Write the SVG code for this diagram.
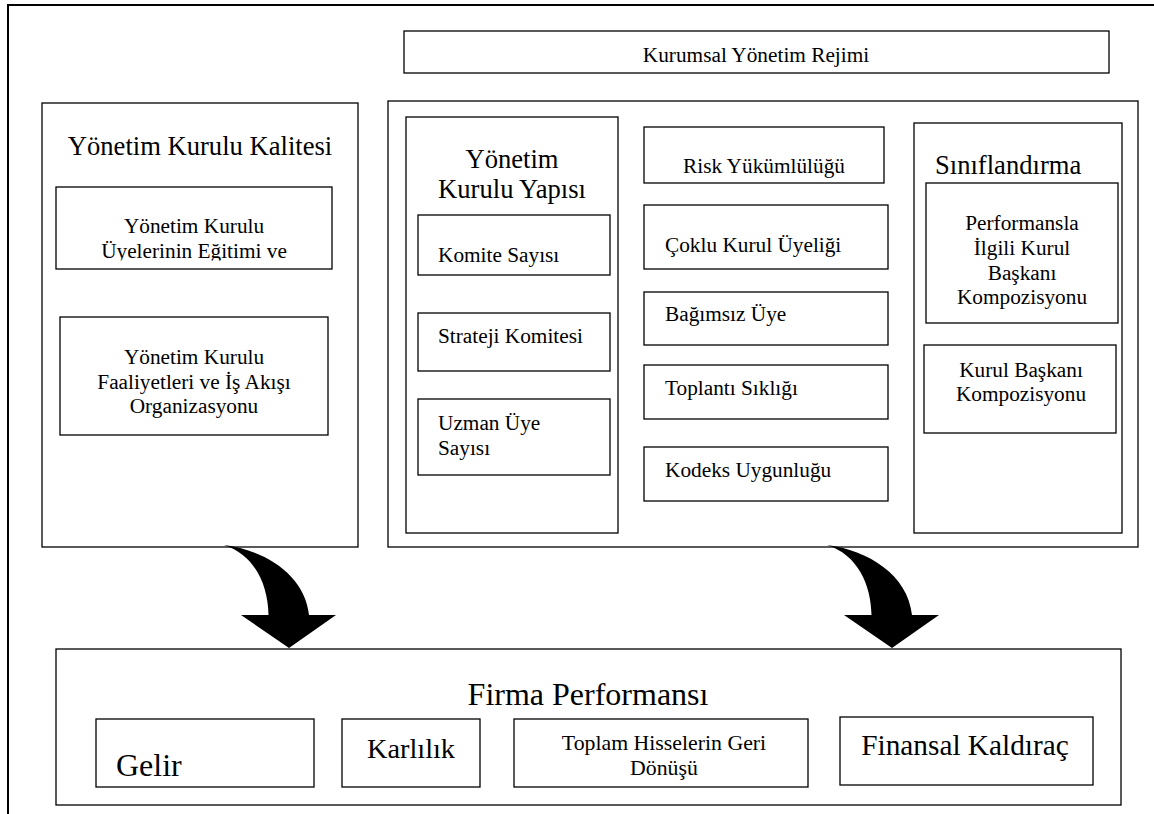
<svg xmlns="http://www.w3.org/2000/svg" width="1154" height="814" viewBox="0 0 1154 814">
<style>
rect{fill:#fff;stroke:#000;stroke-width:1.3}
text{font-family:'Liberation Serif','Times New Roman',Tinos,'DejaVu Serif',serif;fill:#000}
.s{font-size:21.3px}
.m{font-size:26.6px}
.c{text-anchor:middle}
.arrow{fill:#000;stroke:none}
</style>
<defs>
<clipPath id="clipTraining"><rect x="56" y="187" width="276" height="73.5" style="stroke:none"/></clipPath>
</defs>
<rect width="1154" height="814" style="stroke:none"/>
<path d="M8,814 V5 H1154" fill="none" stroke="#000" stroke-width="2"/>

<g font-family="Liberation Serif, serif">
<g id="regime">
<rect x="404" y="31" width="705" height="42"/>
<text class="s c" x="756" y="62">Kurumsal Yönetim Rejimi</text>
</g>

<g id="quality">
<rect x="42" y="103" width="316" height="444"/>
<text class="m c" x="200" y="155">Yönetim Kurulu Kalitesi</text>
</g>
<g id="training">
<rect x="56" y="187" width="276" height="82"/>
<g clip-path="url(#clipTraining)">
<text class="s c" x="194" y="233">Yönetim Kurulu</text>
<text class="s c" x="194" y="258">Üyelerinin Eğitimi ve</text>
</g>
</g>
<g id="activities">
<rect x="60" y="317" width="268" height="118"/>
<text class="s c" x="194" y="364">Yönetim Kurulu</text>
<text class="s c" x="194" y="389">Faaliyetleri ve İş Akışı</text>
<text class="s c" x="194" y="413">Organizasyonu</text>
</g>

<g id="regimeBox">
<rect x="388" y="101" width="750" height="446"/>
</g>

<g id="structure">
<rect x="406" y="117" width="212" height="416"/>
<text class="m c" x="512" y="168">Yönetim</text>
<text class="m c" x="512" y="198">Kurulu Yapısı</text>
</g>
<g id="committees">
<rect x="418" y="215" width="192" height="60"/>
<text class="s" x="438" y="262">Komite Sayısı</text>
</g>
<g id="strategy">
<rect x="418" y="313" width="192" height="58"/>
<text class="s" x="438" y="343">Strateji Komitesi</text>
</g>
<g id="experts">
<rect x="418" y="399" width="192" height="76"/>
<text class="s" x="438" y="430">Uzman Üye</text>
<text class="s" x="438" y="455">Sayısı</text>
</g>

<g id="risk">
<rect x="644" y="127" width="240" height="56"/>
<text class="s c" x="764" y="173">Risk Yükümlülüğü</text>
</g>
<g id="multi">
<rect x="644" y="205" width="244" height="64"/>
<text class="s" x="665" y="252">Çoklu Kurul Üyeliği</text>
</g>
<g id="independent">
<rect x="644" y="292" width="244" height="53"/>
<text class="s" x="665" y="321">Bağımsız Üye</text>
</g>
<g id="meetings">
<rect x="644" y="365" width="244" height="54"/>
<text class="s" x="665" y="395">Toplantı Sıklığı</text>
</g>
<g id="codex">
<rect x="644" y="447" width="244" height="54"/>
<text class="s" x="665" y="477">Kodeks Uygunluğu</text>
</g>

<g id="classification">
<rect x="914" y="123" width="208" height="410"/>
<text class="m" x="935" y="174">Sınıflandırma</text>
</g>
<g id="perfChair">
<rect x="926" y="183" width="192" height="140"/>
<text class="s c" x="1022" y="230">Performansla</text>
<text class="s c" x="1022" y="255">İlgili Kurul</text>
<text class="s c" x="1022" y="280">Başkanı</text>
<text class="s c" x="1022" y="304">Kompozisyonu</text>
</g>
<g id="chair">
<rect x="924" y="345" width="192" height="88"/>
<text class="s c" x="1021" y="377">Kurul Başkanı</text>
<text class="s c" x="1021" y="401">Kompozisyonu</text>
</g>

<g id="connectors">
<path class="arrow" d="M224,545 C265,550 305,575 309,615 L336,615 L289,648 L241,615 L268.5,615 C268,585 255,555 224,545 Z"/>
<path class="arrow" d="M827,545 C868,550 908,575 912,615 L939,615 L892,648 L844,615 L871.5,615 C871,585 858,555 827,545 Z"/>
</g>

<g id="firm">
<rect x="56" y="649" width="1065" height="156"/>
<text class="c" x="588" y="705" style="font-size:32px">Firma Performansı</text>
</g>
<g id="revenue">
<rect x="96" y="719" width="218" height="68"/>
<text x="116" y="776" style="font-size:32px">Gelir</text>
</g>
<g id="profit">
<rect x="342" y="719" width="138" height="68"/>
<text class="c" x="411" y="758" style="font-size:28.3px">Karlılık</text>
</g>
<g id="tsr">
<rect x="514" y="719" width="294" height="68"/>
<text class="c" x="664" y="750" style="font-size:21.8px">Toplam Hisselerin Geri</text>
<text class="c" x="664" y="775" style="font-size:21.8px">Dönüşü</text>
</g>
<g id="leverage">
<rect x="840" y="717" width="253" height="68"/>
<text class="c" x="965" y="755" style="font-size:29.3px">Finansal Kaldıraç</text>
</g>
</g>
</svg>
